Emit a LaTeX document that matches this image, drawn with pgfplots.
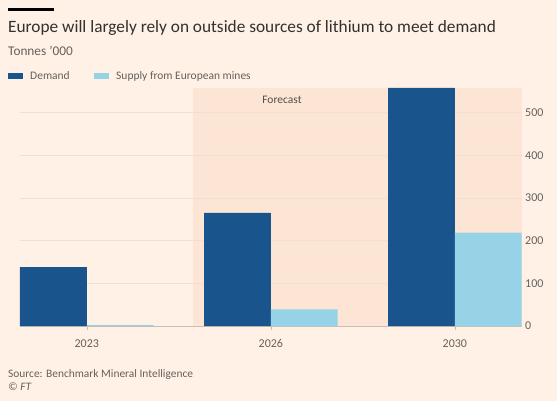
\documentclass[border=0pt]{standalone}
\usepackage{pgfplots}
\pgfplotsset{compat=1.18}
\usepackage{fontspec}
\setmainfont{Carlito}
\definecolor{bg}{HTML}{FFF1E5}
\definecolor{fc}{HTML}{FCE5D5}
\definecolor{demand}{HTML}{1A548C}
\definecolor{supply}{HTML}{96D3E6}
\definecolor{txt}{HTML}{33302E}
\definecolor{sub}{HTML}{66605C}
\definecolor{gridc}{HTML}{F0DFD2}
\definecolor{base}{HTML}{C9BEB4}
\begin{document}
\begin{tikzpicture}[x=1pt,y=1pt]
\fill[bg] (0,0) rectangle (557,-401);
\fill[black] (8,-8) rectangle (54,-11);
\node[anchor=base west, inner sep=0, text=txt, font=\fontsize{17.3}{20}\selectfont] at (8,-32.5) {Europe will largely rely on outside sources of lithium to meet demand};
\node[anchor=base west, inner sep=0, text=sub, font=\fontsize{13.3}{15}\selectfont] at (8,-56) {Tonnes '000};
\fill[demand] (8,-73) rectangle (23.3,-79.3);
\node[anchor=base west, inner sep=0, text=sub, font=\fontsize{11.5}{13}\selectfont] at (30,-80) {Demand};
\fill[supply] (94,-73) rectangle (109,-79.3);
\node[anchor=base west, inner sep=0, text=sub, font=\fontsize{11.5}{13}\selectfont] at (116,-80) {Supply from European mines};
\fill[fc] (193,-326) rectangle (521.7,-88);
\node[anchor=base, inner sep=0, text=txt!85, font=\fontsize{11.5}{13}\selectfont] at (282,-104) {Forecast};
\begin{axis}[
  at={(20pt,-326pt)}, anchor=south west,
  scale only axis, width=501.7pt, height=238pt,
  xmin=-0.363, xmax=2.363, ymin=0, ymax=558,
  axis line style={draw=none},
  xtick={0,1,2}, xticklabels={2023,2026,2030},
  xtick pos=bottom, xtick align=outside,
  major tick length=4pt,
  xtick style={draw=base, line width=0.6pt},
  ytick={0,100,200,300,400,500},
  ytick pos=right, yticklabel pos=right,
  ytick style={draw=none},
  ymajorgrids, grid style={draw=gridc, line width=0.7pt},
  tick label style={font=\fontsize{12}{13}\selectfont, text=sub},
  /pgf/number format/assume math mode=true,
  yticklabel style={anchor=west, xshift=0pt},
  xticklabel style={yshift=-6pt},
  ybar, bar width=0.363,
  clip=false,
]
\draw[base, line width=0.8pt] (axis cs:-0.363,0) -- (axis cs:2.363,0);
\addplot[fill=demand, draw=none, bar shift=-0.1815] coordinates {(0,138) (1,265) (2,558)};
\addplot[fill=supply, draw=none, bar shift=0.1815] coordinates {(0,2) (1,39) (2,219)};
\end{axis}
\node[anchor=base west, inner sep=0, text=sub, font=\fontsize{11.4}{14}\selectfont] at (8,-377.7) {Source: Benchmark Mineral Intelligence};
\node[anchor=base west, inner sep=0, text=sub, font=\fontsize{11.4}{14}\itshape] at (8,-390) {© FT};
\pgfresetboundingbox
\useasboundingbox (0,0) rectangle (557,-401);
\end{tikzpicture}
\end{document}
